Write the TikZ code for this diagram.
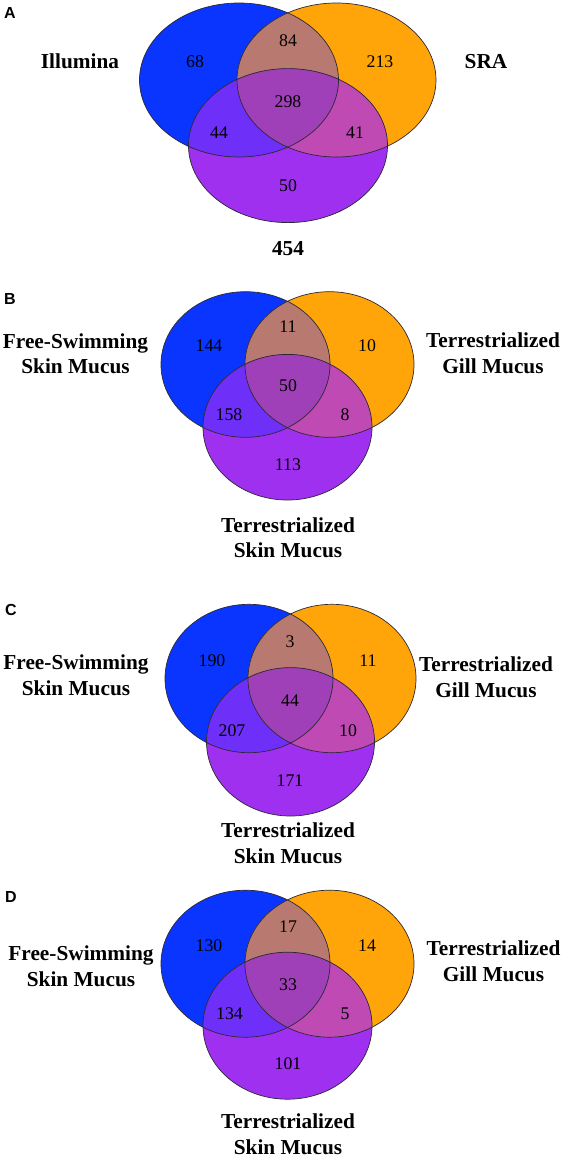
\documentclass[tikz,border=0pt]{standalone}
\usepackage{fontspec}
\setmainfont{Liberation Serif}
\newfontfamily\panelfont{Liberation Sans}
\definecolor{cblue}{RGB}{10,53,255}
\definecolor{corange}{RGB}{255,165,10}
\definecolor{cpurple}{RGB}{160,48,240}
\definecolor{cbo}{RGB}{184,122,112}
\definecolor{cbp}{RGB}{110,48,248}
\definecolor{cop}{RGB}{192,74,180}
\definecolor{cbop}{RGB}{160,64,184}
\definecolor{cline}{RGB}{45,40,50}
% #1 blue cx, #2 orange cx, #3 purple cx, #4 top cy, #5 purple cy, #6 rx, #7 ry
\newcommand{\drawvenn}[7]{%
  \fill[cblue] (#1,#4) ellipse [x radius=#6pt, y radius=#7pt];
  \fill[corange] (#2,#4) ellipse [x radius=#6pt, y radius=#7pt];
  \fill[cpurple] (#3,#5) ellipse [x radius=#6pt, y radius=#7pt];
  \begin{scope}
    \clip (#1,#4) ellipse [x radius=#6pt, y radius=#7pt];
    \fill[cbo] (#2,#4) ellipse [x radius=#6pt, y radius=#7pt];
    \fill[cbp] (#3,#5) ellipse [x radius=#6pt, y radius=#7pt];
  \end{scope}
  \begin{scope}
    \clip (#2,#4) ellipse [x radius=#6pt, y radius=#7pt];
    \fill[cop] (#3,#5) ellipse [x radius=#6pt, y radius=#7pt];
  \end{scope}
  \begin{scope}
    \clip (#1,#4) ellipse [x radius=#6pt, y radius=#7pt];
    \clip (#2,#4) ellipse [x radius=#6pt, y radius=#7pt];
    \fill[cbop] (#3,#5) ellipse [x radius=#6pt, y radius=#7pt];
  \end{scope}
  \draw[outline] (#1,#4) ellipse [x radius=#6pt, y radius=#7pt];
  \draw[outline] (#2,#4) ellipse [x radius=#6pt, y radius=#7pt];
  \draw[outline] (#3,#5) ellipse [x radius=#6pt, y radius=#7pt];
}
\begin{document}
\begin{tikzpicture}[x=1pt,y=-1pt,
  outline/.style={draw=cline,line width=0.7pt},
  num/.style={inner sep=0pt,text height=12pt,text depth=0pt,font=\fontsize{17.8}{20}\selectfont},
  lab/.style={inner sep=0pt,text height=14pt,text depth=0pt,font=\fontsize{21.3}{25}\selectfont\bfseries},
  panel/.style={inner sep=0pt,text height=11.7pt,text depth=0pt,font=\fontsize{16}{18}\selectfont\panelfont\bfseries}]
\fill[white] (0,0) rectangle (561,1157);
\useasboundingbox (0,0) rectangle (561,1157);

% ---------- Panel A ----------
\drawvenn{239}{336.5}{288}{80}{145.6}{99.5}{77}
\node[panel] (pA) at (10,12.7) {A};
\node[num] (a1) at (195,61) {68};
\node[num] (a2) at (288,40.7) {84};
\node[num] (a3) at (380,61) {213};
\node[num] (a4) at (288,101.7) {298};
\node[num] (a5) at (219,132.7) {44};
\node[num] (a6) at (355,132.7) {41};
\node[num] (a7) at (288,185) {50};
\node[lab] (aL) at (80,61.7) {Illumina};
\node[lab] (aR) at (486,61.7) {SRA};
\node[lab] (aB) at (288,248.3) {454};

% ---------- Panel B ----------
\drawvenn{245.5}{329.5}{287.5}{364.5}{427.2}{84.5}{72.8}
\node[panel] (pB) at (10,299) {B};
\node[num] (b1) at (288,326.7) {11};
\node[num] (b2) at (209,345.7) {144};
\node[num] (b3) at (367,345.7) {10};
\node[num] (b4) at (288,385.7) {50};
\node[num] (b5) at (229,414.3) {158};
\node[num] (b6) at (345,414.3) {8};
\node[num] (b7) at (288,464) {113};
\node[lab] (bL1) at (75.5,341.7) {Free-Swimming};
\node[lab] (bL2) at (75.5,366.7) {Skin Mucus};
\node[lab] (bR1) at (493,340.7) {Terrestrialized};
\node[lab] (bR2) at (493,366.7) {Gill Mucus};
\node[lab] (bB1) at (288,525) {Terrestrialized};
\node[lab] (bB2) at (288,550) {Skin Mucus};

% ---------- Panel C ----------
\drawvenn{249}{332}{290.5}{678.5}{741.8}{84}{74.2}
\node[panel] (pC) at (11,609.3) {C};
\node[num] (c1) at (290,641) {3};
\node[num] (c2) at (212,660) {190};
\node[num] (c3) at (368,660) {11};
\node[num] (c4) at (290,700) {44};
\node[num] (c5) at (232,730) {207};
\node[num] (c6) at (348,730) {10};
\node[num] (c7) at (290,780) {171};
\node[lab] (cL1) at (76,662.7) {Free-Swimming};
\node[lab] (cL2) at (76,688.3) {Skin Mucus};
\node[lab] (cR1) at (486,664) {Terrestrialized};
\node[lab] (cR2) at (486,690) {Gill Mucus};
\node[lab] (cB1) at (288,830) {Terrestrialized};
\node[lab] (cB2) at (288,856) {Skin Mucus};

% ---------- Panel D ----------
\drawvenn{245.5}{329.5}{287.5}{963.7}{1025.7}{84.5}{73.5}
\node[panel] (pD) at (11,897) {D};
\node[num] (d1) at (288,926.3) {17};
\node[num] (d2) at (209,945.3) {130};
\node[num] (d3) at (367,945.3) {14};
\node[num] (d4) at (288,984.3) {33};
\node[num] (d5) at (229.5,1013.7) {134};
\node[num] (d6) at (345,1013.7) {5};
\node[num] (d7) at (288,1063.7) {101};
\node[lab] (dL1) at (81,953.7) {Free-Swimming};
\node[lab] (dL2) at (81,979.7) {Skin Mucus};
\node[lab] (dR1) at (493.5,948) {Terrestrialized};
\node[lab] (dR2) at (493.5,974.3) {Gill Mucus};
\node[lab] (dB1) at (288,1121.3) {Terrestrialized};
\node[lab] (dB2) at (288,1147) {Skin Mucus};
\end{tikzpicture}
\end{document}
